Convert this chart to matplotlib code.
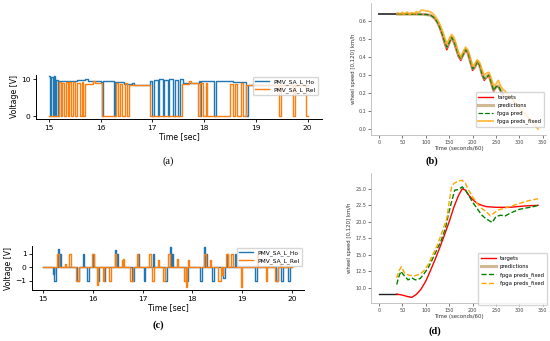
import matplotlib
matplotlib.use("Agg")
import matplotlib.pyplot as plt

W, H = 550, 341

# ---- (a) raw valve voltages: step transitions (time, level) ----
ho_t = [15.00, 15.02, 15.04, 15.07, 15.09, 15.12, 15.14, 15.17, 15.19, 15.55, 15.70, 15.75,
        16.00, 16.02, 16.05, 16.25, 16.28, 16.45, 16.60, 16.65, 16.95, 17.00, 17.03, 17.10,
        17.13, 17.20, 17.23, 17.30, 17.33, 17.40, 17.43, 17.50, 17.53, 17.60, 17.90, 17.92,
        17.95, 18.20, 18.23, 18.55, 18.82, 18.85, 20.00]
ho_v = [10.8, 0.0, 10.6, 0.0, 10.9, 0.0, 9.8, 0.0, 9.5, 9.8, 10.0, 9.6,
        9.2, 0.0, 9.4, 0.0, 9.3, 8.8, 9.0, 8.3, 9.6, 0.0, 9.8, 0.0,
        9.9, 0.0, 9.8, 0.0, 9.9, 0.0, 9.8, 0.0, 9.9, 9.0, 9.6, 0.0,
        9.5, 0.0, 9.6, 9.2, 0.0, 8.5, 8.5]
rel_t = [15.00, 15.20, 15.23, 15.26, 15.30, 15.33, 15.36, 15.39, 15.43, 15.46, 15.50, 15.55,
         15.60, 15.63, 15.66, 15.70, 15.85, 15.90, 16.02, 16.30, 16.33, 16.38, 16.42, 16.47,
         16.50, 16.55, 16.62, 16.95, 17.58, 17.70, 17.75, 17.88, 17.93, 17.97, 18.03, 18.06,
         18.50, 18.55, 18.60, 18.63, 18.72, 18.76, 18.82, 19.45, 19.48, 19.72, 19.75, 19.98, 20.00]
rel_v = [0.0, 9.2, 0.0, 9.0, 0.0, 9.3, 0.0, 9.1, 0.0, 9.2, 0.0, 9.0,
         0.0, 9.3, 0.0, 8.8, 9.4, 8.9, 0.0, 8.9, 0.0, 8.8, 0.0, 8.9,
         0.0, 8.5, 8.3, 0.0, 8.8, 9.4, 8.9, 0.0, 9.0, 0.0, 9.0, 0.0,
         8.8, 0.0, 8.8, 0.0, 8.9, 0.0, 8.5, 0.0, 8.5, 0.0, 8.5, 0.0, 0.0]

# ---- (c) differentiated signal: pulses (start, width, amplitude) ----
ho_p_start = [15.21, 15.23, 15.31, 15.34, 15.68, 15.80, 15.88, 16.00, 16.10, 16.22, 16.45, 16.48,
              16.78, 16.90, 17.02, 17.20, 17.45, 17.56, 17.60, 17.88, 18.15, 18.24, 18.28, 18.40,
              18.62, 18.70, 18.85, 19.25, 19.68, 19.78, 19.92]
ho_p_width = [0.02, 0.03, 0.02, 0.02, 0.04, 0.02, 0.04, 0.03, 0.03, 0.03, 0.02, 0.02,
              0.04, 0.02, 0.03, 0.02, 0.04, 0.02, 0.02, 0.03, 0.04, 0.02, 0.02, 0.03,
              0.03, 0.02, 0.02, 0.04, 0.04, 0.04, 0.04]
ho_p_amp = [-0.5, -1.0, 1.35, 1.0, -1.0, 1.0, -1.0, 1.0, -1.0, -1.0, 1.25, 1.0,
            -1.0, 1.0, -1.0, 1.0, -1.0, 1.5, 1.0, -1.0, -1.0, 1.5, 1.0, -1.0,
            -0.8, 1.0, 1.0, -1.0, -1.0, -1.0, -1.0]
rel_p_start = [15.29, 15.44, 15.53, 15.66, 15.98, 16.08, 16.20, 16.32, 16.44, 16.58, 16.61, 16.75,
               16.88, 17.13, 17.18, 17.30, 17.40, 17.52, 17.70, 17.84, 17.87, 17.92, 18.24, 18.36,
               18.52, 18.60, 18.68, 18.78, 18.98, 19.30, 19.48, 19.66, 19.75]
rel_p_width = [0.04, 0.02, 0.03, 0.06, 0.05, 0.02, 0.03, 0.04, 0.03, 0.02, 0.02, 0.05,
               0.03, 0.03, 0.04, 0.02, 0.05, 0.03, 0.02, 0.03, 0.02, 0.02, 0.03, 0.02,
               0.05, 0.02, 0.03, 0.03, 0.02, 0.02, 0.02, 0.05, 0.02]
rel_p_amp = [1.0, 0.25, 1.0, -1.0, 1.0, -1.35, -1.0, -1.0, 1.0, 0.5, 0.6, -1.0,
             1.0, 1.0, -1.0, 0.5, -1.0, 1.0, 0.6, -1.0, -1.5, 0.55, 1.0, 0.5,
             -1.0, -0.6, 1.0, 1.0, -1.5, 0.9, -1.0, -1.0, 0.3]

# ---- (b) wheel speed, braking ----
b_hist_x = [0, 40]
b_hist_y = [0.638, 0.638]
b_x = [40, 60, 80, 100, 110, 115, 120, 125, 130, 135, 140, 145, 150, 155, 160, 165, 170, 175,
       180, 185, 190, 195, 200, 205, 210, 215, 220, 225, 230, 235, 240, 245, 250, 255, 260, 265]
b_target = [0.638, 0.638, 0.638, 0.637, 0.633, 0.625, 0.61, 0.59, 0.56, 0.52, 0.475, 0.44,
            0.47, 0.505, 0.48, 0.44, 0.40, 0.38, 0.41, 0.435, 0.42, 0.37, 0.325, 0.34,
            0.37, 0.35, 0.30, 0.27, 0.285, 0.295, 0.25, 0.21, 0.23, 0.235, 0.21, 0.19]
b_pred = [0.638, 0.638, 0.638, 0.636, 0.632, 0.624, 0.612, 0.593, 0.565, 0.53, 0.49, 0.455,
          0.48, 0.51, 0.49, 0.45, 0.41, 0.39, 0.415, 0.44, 0.425, 0.38, 0.335, 0.345,
          0.375, 0.355, 0.31, 0.28, 0.29, 0.30, 0.26, 0.215, 0.235, 0.24, 0.215, 0.195]
b_fix_x = [40, 45, 50, 55, 60, 65, 70, 75, 80, 85, 90, 95, 100, 105, 110, 115, 120, 125, 130,
           135, 140, 145, 150, 155, 160, 165, 170, 175, 180, 185, 190, 195, 200, 205, 210, 215,
           220, 225, 230, 235, 240, 245, 250, 255, 260, 265, 270, 275, 280, 290, 300, 310, 320,
           330, 340]
b_fix = [0.645, 0.635, 0.648, 0.638, 0.65, 0.636, 0.646, 0.64, 0.652, 0.646, 0.66, 0.66, 0.656,
         0.655, 0.65, 0.642, 0.627, 0.607, 0.582, 0.55, 0.512, 0.472, 0.50, 0.525, 0.51, 0.47,
         0.425, 0.40, 0.43, 0.455, 0.44, 0.40, 0.35, 0.36, 0.385, 0.37, 0.33, 0.30, 0.31, 0.315,
         0.28, 0.24, 0.25, 0.27, 0.24, 0.22, 0.21, 0.19, 0.18, 0.15, 0.12, 0.09, 0.06, 0.035, 0.0]

# ---- (d) wheel speed, acceleration ----
d_hist_x = [0, 38]
d_hist_y = [9.1, 9.1]
d_tx = [38, 50, 60, 70, 80, 90, 100, 110, 120, 130, 140, 150, 160, 170, 178, 185, 190, 200,
        210, 220, 230, 250, 280, 310, 340]
d_target = [9.05, 8.9, 8.7, 8.55, 9.0, 9.8, 11.0, 12.6, 14.3, 16.1, 18.0, 20.0, 22.2, 24.0,
            25.0, 24.8, 24.2, 23.4, 22.8, 22.5, 22.3, 22.2, 22.2, 22.4, 22.5]
d_px = [38, 42, 47, 52, 55, 62, 70, 78, 88, 95, 105, 112, 122, 132, 142, 148, 155, 162, 170,
        178, 185, 192, 200, 210, 220, 228, 235, 242, 250, 260, 270, 280, 290, 300, 315, 330, 340]
d_fpga = [10.5, 11.6, 12.5, 12.0, 11.8, 11.2, 11.5, 11.2, 11.4, 12.0, 13.0, 14.0, 15.5, 17.0,
          19.0, 21.0, 23.0, 24.8, 24.9, 25.3, 24.8, 24.0, 23.0, 22.0, 21.0, 20.5, 20.2, 19.9,
          20.8, 21.0, 20.9, 21.3, 21.6, 21.9, 22.1, 22.3, 22.5]
d_fx = [38, 43, 48, 55, 65, 75, 85, 95, 105, 115, 125, 135, 145, 150, 155, 160, 170, 178, 185,
        190, 200, 210, 220, 230, 238, 245, 255, 265, 280, 300, 320, 340]
d_fix = [11.5, 12.6, 13.2, 12.2, 11.9, 11.8, 12.0, 12.5, 13.5, 15.0, 16.5, 18.5, 20.5, 23.0,
         25.2, 25.8, 26.2, 26.3, 25.8, 25.0, 23.8, 22.8, 22.0, 21.5, 20.9, 21.3, 21.8, 22.0,
         22.3, 22.8, 23.2, 23.5]

xticks_time = [15, 16, 17, 18, 19, 20]
xticks_speed = [0, 50, 100, 150, 200, 250, 300, 350]


def pulse_train(starts, widths, amps, t0=15.0, t1=20.0):
    t, v = [t0], [0.0]
    for s, w, a in zip(starts, widths, amps):
        t += [s, s + w]
        v += [a, 0.0]
    t.append(t1)
    v.append(0.0)
    return t, v


def px_axes(fig, left, top, right, bottom):
    return fig.add_axes([left / W, 1 - bottom / H, (right - left) / W, (bottom - top) / H])


def style_voltage(ax):
    for s in ['top', 'right']:
        ax.spines[s].set_visible(False)
    ax.spines['left'].set_linewidth(0.7)
    ax.spines['bottom'].set_linewidth(0.7)
    ax.set_xticks(xticks_time)
    ax.set_xlabel('Time [sec]', fontsize=5.6, labelpad=1)
    ax.set_ylabel('Voltage [V]', fontsize=5.6, labelpad=1.5)
    ax.tick_params(labelsize=5.4, length=2.5, width=0.6, pad=1.5)


fig = plt.figure(figsize=(W / 100, H / 100), dpi=100)

# ---------- (a) ----------
ax_a = px_axes(fig, 36, 75, 322, 119)
ax_a.plot(ho_t, ho_v, drawstyle='steps-post', color='#1f77b4', lw=1.0, label='PMV_SA_L_Ho')
ax_a.plot(rel_t, rel_v, drawstyle='steps-post', color='#ff7f0e', lw=1.0, label='PMV_SA_L_Rel')
ax_a.set_xlim(14.75, 20.28)
ax_a.set_ylim(-0.8, 11.1)
ax_a.set_yticks([0, 10])
style_voltage(ax_a)
ax_a.legend(loc='upper right', bbox_to_anchor=(318 / W, 1 - 77 / H), bbox_transform=fig.transFigure,
            fontsize=4.2, handlelength=2.4, borderpad=0.4, labelspacing=0.3, borderaxespad=0)
fig.text(168 / W, 1 - 161 / H, '(a)', ha='center', va='center', fontsize=7.5, family='Liberation Serif')

# ---------- (c) ----------
ax_c = px_axes(fig, 32, 246, 304, 290)
ct, cv = pulse_train(ho_p_start, ho_p_width, ho_p_amp)
ax_c.plot(ct, cv, drawstyle='steps-post', color='#1f77b4', lw=1.0, label='PMV_SA_L_Ho')
ct, cv = pulse_train(rel_p_start, rel_p_width, rel_p_amp)
ax_c.plot(ct, cv, drawstyle='steps-post', color='#ff7f0e', lw=1.0, label='PMV_SA_L_Rel')
ax_c.set_xlim(14.78, 20.24)
ax_c.set_ylim(-1.7, 1.56)
ax_c.set_yticks([-1, 0, 1])
style_voltage(ax_c)
ax_c.legend(loc='upper right', bbox_to_anchor=(302 / W, 1 - 248 / H), bbox_transform=fig.transFigure,
            fontsize=4.2, handlelength=2.4, borderpad=0.4, labelspacing=0.3, borderaxespad=0)
fig.text(158 / W, 1 - 325 / H, '(c)', ha='center', va='center', fontsize=7.5,
         family='Liberation Serif', weight='bold')


def style_speed(ax):
    for s in ['top', 'right']:
        ax.spines[s].set_visible(False)
    for s in ['left', 'bottom']:
        ax.spines[s].set_color('#bbbbbb')
        ax.spines[s].set_linewidth(0.6)
    ax.tick_params(labelsize=3.5, length=2, width=0.5, pad=1.5, colors='#444444')
    ax.set_xticks(xticks_speed)
    ax.set_xlim(-17, 357)
    ax.set_xlabel('Time (seconds/60)', fontsize=3.9, labelpad=1, color='#333333')
    ax.set_ylabel('wheel speed [0,120] km/h', fontsize=3.9, labelpad=2, color='#333333')


# ---------- (b) ----------
ax_b = px_axes(fig, 371, 3, 546, 135)
ax_b.plot(b_hist_x, b_hist_y, color='#444444', lw=1.4)
ax_b.plot(b_x, b_target, color='red', lw=1.0, label='targets')
ax_b.plot(b_x, b_pred, color='#c9a67a', lw=2.2, alpha=0.8, label='predictions')
ax_b.plot(b_x, b_pred, color='green', lw=0.9, ls='--', label='fpga pred')
ax_b.plot(b_fix_x, b_fix, color='orange', lw=1.3, alpha=0.75, label='fpga preds_fixed')
ax_b.set_ylim(-0.033, 0.70)
ax_b.set_yticks([0.0, 0.1, 0.2, 0.3, 0.4, 0.5, 0.6])
style_speed(ax_b)
ax_b.legend(loc='lower right', bbox_to_anchor=(544 / W, 1 - 127 / H), bbox_transform=fig.transFigure,
            fontsize=3.8, handlelength=2.8, borderpad=0.5, labelspacing=0.55, borderaxespad=0,
            framealpha=0.8)
fig.text(432 / W, 1 - 161 / H, '(b)', ha='center', va='center', fontsize=7.5,
         family='Liberation Serif', weight='bold')

# ---------- (d) ----------
ax_d = px_axes(fig, 371, 173, 546, 303)
ax_d.plot(d_hist_x, d_hist_y, color='#222222', lw=1.0)
ax_d.plot(d_tx, d_target, color='red', lw=1.0, label='targets')
ax_d.plot(d_px, d_fpga, color='#c9a67a', lw=2.2, alpha=0.0, label='predictions')
ax_d.plot(d_px, d_fpga, color='green', lw=1.0, ls='--', label='fpga preds_fixed')
ax_d.plot(d_fx, d_fix, color='orange', lw=1.0, ls='--', label='fpga preds_fixed')
ax_d.plot([], [], color='none', label=' ')
ax_d.plot([], [], color='none', label=' ')
ax_d.set_ylim(7.7, 27.4)
ax_d.set_yticks([10.0, 12.5, 15.0, 17.5, 20.0, 22.5, 25.0])
ax_d.set_yticklabels(['10.0', '12.5', '15.0', '17.5', '20.0', '22.5', '25.0'])
style_speed(ax_d)
leg = ax_d.legend(loc='upper right', bbox_to_anchor=(547 / W, 1 - 253 / H), bbox_transform=fig.transFigure,
                  fontsize=3.8, handlelength=2.8, borderpad=0.6, labelspacing=0.55, borderaxespad=0)
leg.legend_handles[1].set_alpha(0.8)
fig.text(435 / W, 1 - 331 / H, '(d)', ha='center', va='center', fontsize=7.5,
         family='Liberation Serif', weight='bold')

fig.savefig('out.png', dpi=100)
